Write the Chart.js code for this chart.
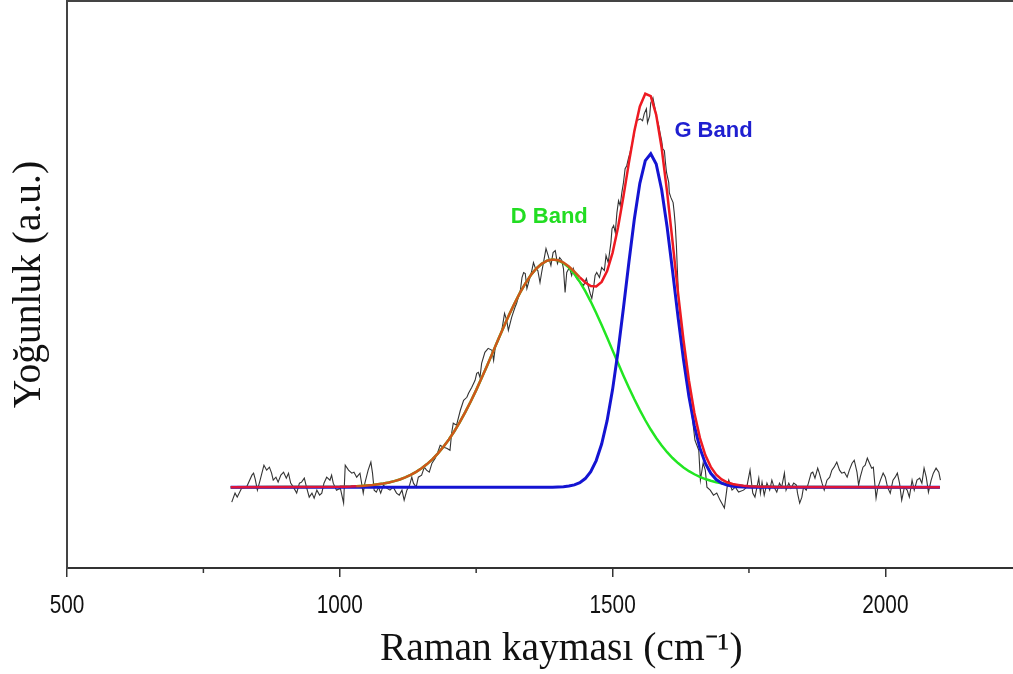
<!DOCTYPE html>
<html>
<head>
<meta charset="utf-8">
<script src="https://cdn.jsdelivr.net/npm/chart.js@4.4.0/dist/chart.umd.min.js"></script>
<style>
  html, body { margin: 0; padding: 0; background: #fff; }
  #wrap { width: 1013px; height: 674px; }
</style>
</head>
<body>
<div id="wrap"><canvas id="raman"></canvas></div>
<script>
// Measured spectrum (Raman shift in cm-1, intensity in a.u.)
const specX = [802,808,812,820,829,839,842,845,849,854,861,866,871,875,878,883,887,892,897,902,906,910,915,921,926,930,935,939,944,949,953,958,963,967,971,976,982,985,988,994,1001,1007,1010,1016,1022,1026,1031,1037,1043,1046,1052,1057,1060,1063,1067,1071,1075,1080,1086,1092,1098,1104,1109,1114,1118,1123,1128,1132,1135,1140,1144,1150,1155,1159,1164,1169,1175,1179,1184,1190,1196,
  1202,1205,1208,1214,1221,1227,1233,1236,1242,1248,1251,1254,1257,1260,1266,1272,1279,1282,1285,1291,1297,1302,1306,1309,1315,1321,1324,1331,1334,1337,1340,1343,1347,1352,1355,1358,1363,1367,1370,1373,
  1378,1382,1387,1391,1395,1399,1403,1407,1410,1413,1416,1421,1425,1428,1434,1441,1447,1452,1456,1459,1462,1465,1468,1471,1476,1480,1485,1488,1492,
  1497,1499,1502,1505,1508,1511,1514,1517,1520,1523,1526,1529,1532,1535,1538,1541,1544,1551,1555,1558,1562,1564,1568,1570,1574,1578,1581,1584,1587,1590,1592,1595,1597,1599,1603,1604,1607,1611,1613,1615,1617,1619,1621,1626,1632,1638,1644,
  1651,1658,1661,1666,1670,1673,1679,1685,1691,1697,1705,1710,1713,1719,1725,1731,1740,1746,1752,1757,1761,
  1768,1771,1774,1778,1783,1788,1792,1796,1801,1806,1810,1815,1818,1823,1827,1832,1837,1839,1843,1847,1850,1855,1859,1864,1867,1871,1876,1879,1884,1888,1893,1898,1902,1906,1911,1916,1920,1925,1930,1934,1939,1943,1948,1951,1954,1959,1963,1967,1971,1975,1978,1983,1986,1991,1996,2000,2004,2009,2014,2018,2022,2026,2030,2035,2040,2044,2049,2053,2058,2063,2067,2071,2075,2079,2084,2088,2093,2098,2101];
const specY = [-15,-6,-10,-1,0,12,14,8,-3,7,22,17,20,14,7,10,5,12,15,9,14,4,0,-6,4,5,9,0,-10,-6,-11,-3,-8,-6,4,10,7,12,4,-3,-1,-16,22,17,14,15,10,14,-6,4,17,25,14,-3,-5,0,-6,2,-1,-3,0,-6,-8,-3,-13,-3,2,10,4,0,10,12,20,17,15,24,29,34,42,40,39,
  37,54,64,62,77,87,90,94,100,107,114,115,110,124,135,139,137,127,140,147,157,174,167,157,170,180,184,197,210,215,214,199,207,217,225,220,217,205,215,224,
  239,232,222,235,237,224,230,227,219,195,215,220,212,219,209,205,202,209,200,194,189,199,212,215,210,220,217,232,225,
  245,259,262,255,275,287,282,295,305,319,322,329,335,342,349,359,367,369,367,374,379,365,372,385,390,379,369,364,355,347,339,337,325,315,305,295,290,285,275,262,242,215,189,160,135,108,80,
  47,37,7,24,17,0,-3,-8,-6,-13,-21,0,7,-3,0,-5,-3,0,17,-6,-10,
  9,-6,5,-8,4,-3,7,0,-5,4,0,14,-3,4,-1,4,2,-6,-16,-10,0,-3,4,14,15,9,19,14,4,-3,7,10,17,20,25,17,14,15,10,17,24,27,15,2,10,20,22,29,24,19,20,-11,-1,7,14,10,0,-6,7,10,14,4,-13,0,-3,-10,7,-3,7,9,4,19,10,-5,7,14,19,15,7];

// Peak fit, sampled every 10 cm-1 between 1000 and 1800
const fitX = [800,
  1000,1010,1020,1030,1040,1050,1060,1070,1080,1090,1100,1110,1120,1130,1140,1150,1160,1170,1180,1190,
  1200,1210,1220,1230,1240,1250,1260,1270,1280,1290,1300,1310,1320,1330,1340,1350,1360,1370,1380,1390,
  1400,1410,1420,1430,1440,1450,1460,1470,1480,1490,1500,1510,1520,1530,1540,1550,1560,1570,1580,1590,
  1600,1610,1620,1630,1640,1650,1660,1670,1680,1690,1700,1710,1720,1730,1740,1750,1760,1770,1780,1790,
  1800, 2100];
const dBand = [0,
  0.3,0.5,0.6,0.9,1.2,1.6,2.1,2.8,3.6,4.7,6.0,7.7,9.8,12.3,15.3,18.9,23.1,28.1,33.8,40.4,
  47.7,56.0,65.1,75.1,85.8,97.2,109.3,121.7,134.5,147.3,159.9,172.1,183.7,194.4,203.9,212.2,218.8,223.7,226.8,228.0,
  227.2,224.5,219.9,213.6,205.7,196.4,185.9,174.5,162.4,149.8,137.0,124.3,111.7,99.6,88.0,77.1,67.0,57.7,49.3,41.7,
  35.0,29.2,24.1,19.7,16.0,12.9,10.3,8.1,6.4,4.9,3.8,2.9,2.2,1.7,1.2,0.9,0.7,0.5,0.4,0.3,
  0.2, 0];
const gBand = [0,
  0,0,0,0,0,0,0,0,0,0,0,0,0,0,0,0,0,0,0,0,
  0,0,0,0,0,0,0,0,0,0,0,0,0,0,0,0,0,0,0,0,
  0.2,0.5,1.1,2.3,4.5,8.6,15.5,26.6,43.2,66.6,97.7,135.9,179.7,225.5,268.8,304.3,327.1,334.0,323.7,298.0,
  260.6,216.4,170.6,127.8,90.8,61.4,39.3,24.0,13.9,7.6,4.0,2.0,0.9,0.4,0.2,0,0,0,0,0,
  0, 0];
const fitSum = [0,
  0.3,0.5,0.6,0.9,1.2,1.6,2.1,2.8,3.6,4.7,6.0,7.7,9.8,12.3,15.3,18.9,23.1,28.1,33.8,40.4,
  47.7,56.0,65.1,75.1,85.8,97.2,109.3,121.7,134.5,147.3,159.9,172.1,183.7,194.4,203.9,212.2,218.8,223.7,226.8,228.0,
  227.4,225.0,221.0,215.9,210.2,205.0,201.4,201.1,205.6,216.4,234.7,260.2,291.4,325.1,356.8,381.4,394.1,391.7,373.0,339.7,
  295.6,245.6,194.7,147.5,106.8,74.3,49.6,32.1,20.3,12.5,7.8,4.9,3.1,2.1,1.4,0.9,0.7,0.5,0.4,0.3,
  0.2, 0];

const xTicks = [500, 750, 1000, 1250, 1500, 1750, 2000];

const pts = (xs, ys) => xs.map((x, i) => ({ x, y: ys[i] }));

// band labels, condensed tick labels, x title, frame extras
const extras = {
  id: 'extras',
  afterDraw(chart) {
    const { ctx, chartArea: a, scales: { x, y } } = chart;
    ctx.save();
    ctx.font = 'bold 22px "Liberation Sans", Arial, sans-serif';
    ctx.textAlign = 'center';
    ctx.textBaseline = 'middle';
    ctx.fillStyle = '#22dd22';
    ctx.fillText('D Band', x.getPixelForValue(1384), y.getPixelForValue(271));
    ctx.fillStyle = '#1f1fd0';
    ctx.fillText('G Band', x.getPixelForValue(1685), y.getPixelForValue(357));

    // top frame line
    ctx.strokeStyle = '#444';
    ctx.lineWidth = 2;
    ctx.beginPath();
    ctx.moveTo(a.left, a.top);
    ctx.lineTo(a.right, a.top);
    ctx.stroke();

    // short minor ticks
    ctx.lineWidth = 1.5;
    ctx.strokeStyle = '#333';
    xTicks.filter(v => v % 500).forEach(v => {
      const px = x.getPixelForValue(v);
      ctx.beginPath();
      ctx.moveTo(px, a.bottom);
      ctx.lineTo(px, a.bottom + 5);
      ctx.stroke();
    });

    // tick labels (narrow face, like the original)
    ctx.fillStyle = '#111';
    ctx.font = '26px "Liberation Sans", Arial, sans-serif';
    ctx.textBaseline = 'alphabetic';
    xTicks.filter(v => v % 500 === 0).forEach(v => {
      ctx.save();
      ctx.translate(x.getPixelForValue(v), a.bottom + 45);
      ctx.scale(0.8, 1);
      ctx.fillText(String(v), 0, 0);
      ctx.restore();
    });

    // axis title
    ctx.font = '39.5px "Liberation Serif", "Times New Roman", serif';
    ctx.fillStyle = '#111';
    ctx.textBaseline = 'middle';
    ctx.fillText('Raman kayması (cm⁻¹)', x.getPixelForValue(1406), a.bottom + 82);
    ctx.restore();
  }
};

const ctx = document.getElementById('raman').getContext('2d');
new Chart(ctx, {
  type: 'line',
  data: {
    datasets: [
      {
        label: 'Fit',
        data: pts(fitX, fitSum),
        borderColor: '#ee1a22',
        borderWidth: 2.5,
        segment: {
          borderColor: c => {
            const v = c.p0.parsed.x;
            if (v < 1030 || v > 1720) return '#dc143c';
            if (v < 1440) return '#d0561a';
            return '#ee1a22';
          }
        },
        order: 0
      },
      { label: 'G Band', data: pts(fitX, gBand), borderColor: '#1414d2', borderWidth: 3, order: 1 },
      { label: 'D Band', data: pts(fitX, dBand), borderColor: '#22e622', borderWidth: 2.5, order: 2 },
      { label: 'Spektrum', data: pts(specX, specY), borderColor: '#333', borderWidth: 1.1, order: 3 }
    ]
  },
  options: {
    responsive: true,
    maintainAspectRatio: false,
    animation: false,
    layout: { padding: { top: 1, right: 0, left: 0, bottom: 0 } },
    elements: { point: { radius: 0 }, line: { tension: 0 } },
    plugins: { legend: { display: false }, tooltip: { enabled: false } },
    scales: {
      x: {
        type: 'linear',
        min: 500,
        max: 2234,
        afterBuildTicks: s => { s.ticks = xTicks.map(v => ({ value: v })); },
        afterFit: s => { s.height = 106; },
        ticks: { autoSkip: false, maxRotation: 0, callback: () => '' },
        grid: {
          drawOnChartArea: false,
          tickLength: 9,
          lineWidth: 1.5,
          tickColor: c => (c.tick && c.tick.value % 500 ? 'rgba(0,0,0,0)' : '#333')
        },
        border: { color: '#333', width: 2 },
        title: { display: false }
      },
      y: {
        min: -81,
        max: 487,
        afterFit: s => { s.width = 67; },
        ticks: { display: false },
        grid: { drawOnChartArea: false, drawTicks: false },
        border: { color: '#444', width: 2 },
        title: {
          display: true,
          text: 'Yoğunluk (a.u.)',
          color: '#111',
          font: { family: '"Liberation Serif", "Times New Roman", serif', size: 39.5 },
          padding: { top: 6, bottom: 0 }
        }
      }
    }
  },
  plugins: [extras]
});
</script>
</body>
</html>
